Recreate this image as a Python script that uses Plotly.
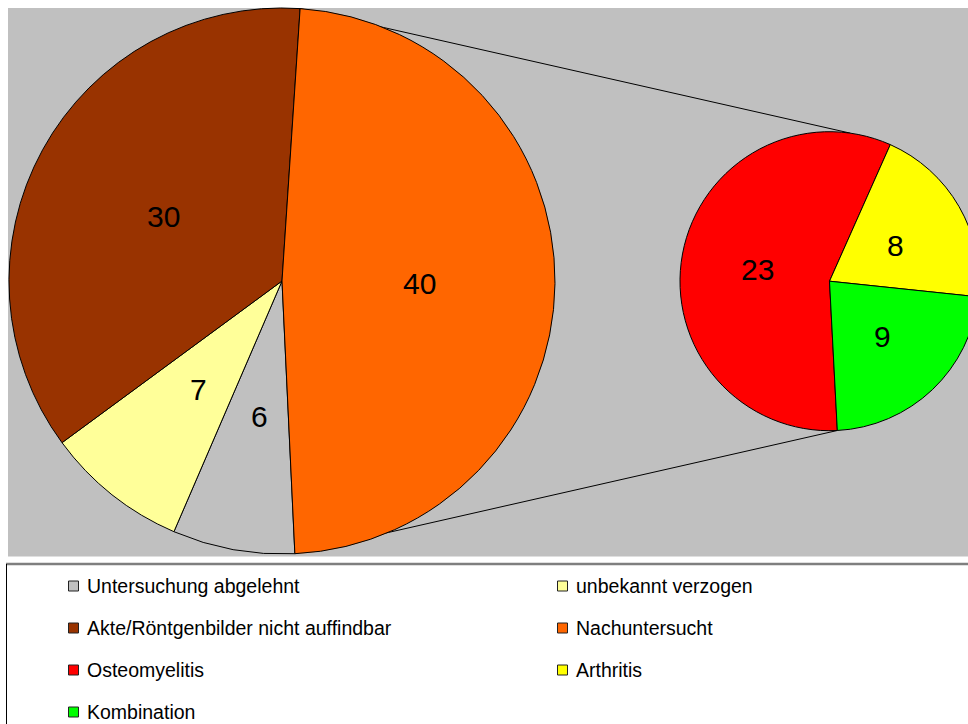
import math
import plotly.graph_objects as go

# Overall cohort
main_labels = ["Untersuchung abgelehnt", "unbekannt verzogen",
               "Akte/Röntgenbilder nicht auffindbar", "Nachuntersucht"]
main_values = [6, 7, 30, 40]
main_colors = ["#C0C0C0", "#FFFF99", "#993300", "#FF6600"]

# Breakdown of the "Nachuntersucht" group
detail_labels = ["Osteomyelitis", "Arthritis", "Kombination"]
detail_values = [23, 8, 9]
detail_colors = ["#FF0000", "#FFFF00", "#00FF00"]

# Canvas geometry (pixels); the page is narrower, so the right edge is cut off
W, H = 1000, 724
MAIN_C, MAIN_R, MAIN_ROT = (282.0, 281.0), 273.0, 177.3
DETAIL_C, DETAIL_R, DETAIL_ROT = (829.5, 281.2), 149.5, 177.0
DETAIL_TOP_TANGENT = 8.0
LABEL_FRAC = 0.5
FONT = "Liberation Sans, Arial, Helvetica, sans-serif"


def fx(x):
    return x / W


def fy(y):
    return 1 - y / H


def pie_domain(c, r):
    return dict(x=[fx(c[0] - r), fx(c[0] + r)], y=[fy(c[1] + r), fy(c[1] - r)])


def slice_angles(values, rot):
    total = float(sum(values))
    start = rot
    out = []
    for v in values:
        span = 360.0 * v / total
        out.append((start, start + span))
        start += span
    return out


def on_circle(c, r, ang):
    a = math.radians(ang)
    return c[0] + r * math.sin(a), c[1] - r * math.cos(a)


fig = go.Figure()

fig.add_trace(go.Pie(
    labels=main_labels, values=main_values, sort=False,
    direction="clockwise", rotation=MAIN_ROT,
    marker=dict(colors=main_colors, line=dict(color="black", width=1)),
    textinfo="none", hoverinfo="label+value",
    domain=pie_domain(MAIN_C, MAIN_R), showlegend=False,
))
fig.add_trace(go.Pie(
    labels=detail_labels, values=detail_values, sort=False,
    direction="clockwise", rotation=DETAIL_ROT,
    marker=dict(colors=detail_colors, line=dict(color="black", width=1)),
    textinfo="none", hoverinfo="label+value",
    domain=pie_domain(DETAIL_C, DETAIL_R), showlegend=False,
))

annotations = []
# value labels placed halfway out along each slice's mid-angle
for values, c, r, rot in [(main_values, MAIN_C, MAIN_R, MAIN_ROT),
                          (detail_values, DETAIL_C, DETAIL_R, DETAIL_ROT)]:
    for v, (a0, a1) in zip(values, slice_angles(values, rot)):
        x, y = on_circle(c, r * LABEL_FRAC, (a0 + a1) / 2)
        annotations.append(dict(
            x=fx(x + 1.5), y=fy(y + 1.5), xref="paper", yref="paper",
            text=str(v), showarrow=False, xanchor="center", yanchor="middle",
            font=dict(family=FONT, size=30, color="black"),
        ))

# connector lines from the split slice to the secondary pie
main_ang = slice_angles(main_values, MAIN_ROT)
split_start, split_end = main_ang[-1]
p_top = on_circle(MAIN_C, MAIN_R, split_start)
q_top = on_circle(DETAIL_C, DETAIL_R, DETAIL_TOP_TANGENT)
p_bot = on_circle(MAIN_C, MAIN_R, split_end)
q_bot = on_circle(DETAIL_C, DETAIL_R, DETAIL_ROT)

shapes = [
    # plot area
    dict(type="rect", xref="paper", yref="paper", layer="below",
         x0=fx(8), x1=fx(W + 5), y0=fy(556.5), y1=fy(8),
         fillcolor="#C0C0C0", line=dict(width=0)),
    dict(type="line", xref="paper", yref="paper", layer="below",
         x0=fx(p_top[0]), y0=fy(p_top[1]), x1=fx(q_top[0]), y1=fy(q_top[1]),
         line=dict(color="black", width=1)),
    dict(type="line", xref="paper", yref="paper", layer="below",
         x0=fx(p_bot[0]), y0=fy(p_bot[1]), x1=fx(q_bot[0]), y1=fy(q_bot[1]),
         line=dict(color="black", width=1)),
    # legend frame
    dict(type="rect", xref="paper", yref="paper", layer="below",
         x0=fx(6), x1=fx(W + 5), y0=fy(H + 5), y1=fy(564),
         fillcolor="white", line=dict(width=0)),
    dict(type="line", xref="paper", yref="paper", layer="below",
         x0=fx(6), x1=fx(W + 5), y0=fy(564), y1=fy(564),
         line=dict(color="#7F7F7F", width=2.5)),
    dict(type="line", xref="paper", yref="paper", layer="below",
         x0=fx(6.5), x1=fx(6.5), y0=fy(564), y1=fy(H + 5),
         line=dict(color="black", width=1)),
]

# legend entries in two columns
legend_labels = main_labels + detail_labels
legend_colors = main_colors + detail_colors
LEG_X0, LEG_DX, LEG_Y0, LEG_DY, LEG_TEXT_GAP = 73.5, 489.0, 586.0, 42.0, 11.0
mx, my = [], []
for i, lab in enumerate(legend_labels):
    col, row = i % 2, i // 2
    x = LEG_X0 + col * LEG_DX
    y = LEG_Y0 + row * LEG_DY
    mx.append(x)
    my.append(y)
    annotations.append(dict(
        x=fx(x + LEG_TEXT_GAP), y=fy(y), xref="paper", yref="paper",
        text=lab, showarrow=False, xanchor="left", yanchor="middle",
        font=dict(family=FONT, size=19.5, color="black"),
    ))

fig.add_trace(go.Scatter(
    x=mx, y=my, mode="markers", hoverinfo="skip", showlegend=False,
    marker=dict(symbol="square", size=10, color=legend_colors,
                line=dict(color="#222222", width=1)),
))

fig.update_layout(
    width=W, height=H,
    margin=dict(l=0, r=0, t=0, b=0, pad=0),
    paper_bgcolor="white", plot_bgcolor="rgba(0,0,0,0)",
    showlegend=False,
    xaxis=dict(range=[0, W], domain=[0, 1], visible=False, fixedrange=True),
    yaxis=dict(range=[H, 0], domain=[0, 1], visible=False, fixedrange=True),
    shapes=shapes, annotations=annotations,
    font=dict(family=FONT),
)

fig.write_html(
    "out.html",
    config={"displayModeBar": False},
    post_script=("document.body.style.margin='0';"
                 "document.body.style.overflow='hidden';"
                 "document.documentElement.style.overflow='hidden';"),
)
